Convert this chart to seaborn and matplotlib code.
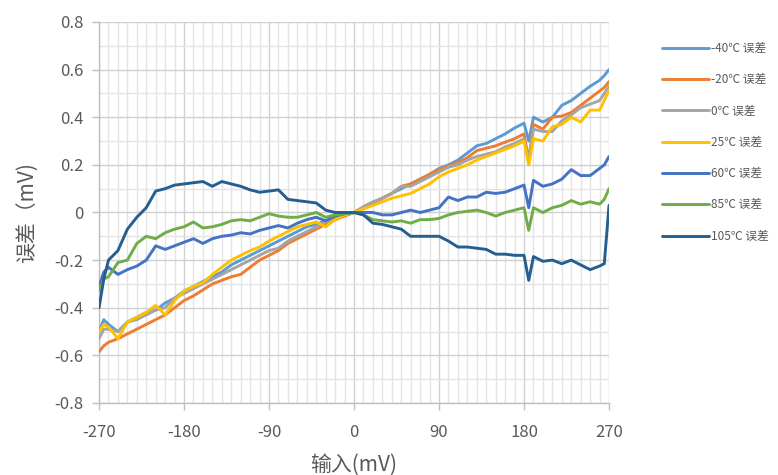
import matplotlib
matplotlib.use("Agg")
import matplotlib.pyplot as plt
from matplotlib.ticker import MultipleLocator
import seaborn as sns
import pandas as pd

x_mv = [-270, -265, -260, -250, -240, -230, -220, -210, -200, -190, -180, -170, -160,
        -150, -140, -130, -120, -110, -100, -90, -80, -70, -60, -50, -40, -30, -20,
        -10, 0, 10, 20, 30, 40, 50, 60, 70, 80, 90, 100, 110, 120, 130, 140, 150,
        160, 170, 180, 185, 190, 200, 210, 220, 230, 240, 250, 260, 265, 270]

err_m40 = [-0.50, -0.45, -0.47, -0.50, -0.46, -0.44, -0.42, -0.41, -0.38, -0.36, -0.33, -0.31, -0.29,
           -0.27, -0.25, -0.22, -0.20, -0.18, -0.16, -0.14, -0.12, -0.10, -0.08, -0.06, -0.05, -0.035, -0.02,
           -0.01, 0.0, 0.02, 0.04, 0.06, 0.08, 0.10, 0.12, 0.14, 0.16, 0.185, 0.20, 0.22, 0.25, 0.28, 0.29, 0.31,
           0.33, 0.355, 0.375, 0.30, 0.40, 0.38, 0.40, 0.45, 0.47, 0.50, 0.53, 0.555, 0.575, 0.60]

err_m20 = [-0.585, -0.56, -0.545, -0.53, -0.51, -0.49, -0.47, -0.45, -0.43, -0.40, -0.37, -0.35, -0.325,
           -0.30, -0.285, -0.27, -0.26, -0.23, -0.20, -0.18, -0.16, -0.13, -0.11, -0.09, -0.07, -0.05, -0.03,
           -0.015, 0.0, 0.02, 0.04, 0.06, 0.08, 0.11, 0.12, 0.14, 0.16, 0.18, 0.195, 0.21, 0.23, 0.26, 0.27, 0.28,
           0.295, 0.31, 0.33, 0.22, 0.37, 0.35, 0.40, 0.405, 0.42, 0.45, 0.48, 0.51, 0.525, 0.55]

err_0 = [-0.53, -0.49, -0.49, -0.50, -0.46, -0.45, -0.43, -0.41, -0.40, -0.36, -0.34, -0.32, -0.30,
         -0.28, -0.26, -0.24, -0.22, -0.20, -0.18, -0.16, -0.15, -0.12, -0.10, -0.08, -0.06, -0.04, -0.025,
         -0.01, 0.0, 0.025, 0.045, 0.06, 0.08, 0.11, 0.11, 0.13, 0.15, 0.17, 0.19, 0.20, 0.22, 0.235, 0.245, 0.255,
         0.275, 0.29, 0.31, 0.22, 0.35, 0.34, 0.34, 0.385, 0.41, 0.44, 0.455, 0.47, 0.50, 0.53]

err_25 = [-0.50, -0.47, -0.48, -0.53, -0.46, -0.44, -0.42, -0.39, -0.43, -0.37, -0.33, -0.31, -0.295,
          -0.26, -0.23, -0.20, -0.18, -0.16, -0.145, -0.12, -0.10, -0.08, -0.06, -0.05, -0.04, -0.06, -0.03,
          -0.01, 0.0, 0.015, 0.03, 0.045, 0.06, 0.07, 0.08, 0.10, 0.12, 0.15, 0.17, 0.185, 0.20, 0.22, 0.235, 0.25,
          0.265, 0.28, 0.30, 0.20, 0.31, 0.30, 0.36, 0.37, 0.40, 0.38, 0.43, 0.43, 0.47, 0.515]

err_60 = [-0.31, -0.25, -0.23, -0.26, -0.24, -0.225, -0.20, -0.14, -0.155, -0.14, -0.125, -0.11, -0.13,
          -0.11, -0.10, -0.095, -0.085, -0.09, -0.075, -0.065, -0.055, -0.065, -0.045, -0.03, -0.02, -0.035, -0.015,
          -0.005, 0.0, 0.0, 0.0, -0.01, -0.01, 0.0, 0.01, 0.0, 0.01, 0.02, 0.065, 0.05, 0.065, 0.065, 0.085, 0.08,
          0.085, 0.10, 0.115, 0.02, 0.135, 0.11, 0.12, 0.14, 0.18, 0.155, 0.155, 0.185, 0.20, 0.235]

err_85 = [-0.33, -0.28, -0.27, -0.21, -0.20, -0.13, -0.10, -0.11, -0.085, -0.07, -0.06, -0.04, -0.065,
          -0.06, -0.05, -0.035, -0.03, -0.035, -0.02, -0.005, -0.015, -0.02, -0.02, -0.01, 0.0, -0.02, -0.01,
          -0.005, 0.0, -0.01, -0.03, -0.035, -0.04, -0.035, -0.045, -0.03, -0.03, -0.025, -0.01, 0.0, 0.005, 0.01, 0.0, -0.015,
          0.0, 0.01, 0.02, -0.075, 0.02, 0.0, 0.02, 0.03, 0.05, 0.035, 0.045, 0.035, 0.055, 0.10]

err_105 = [-0.40, -0.28, -0.20, -0.16, -0.07, -0.02, 0.02, 0.09, 0.10, 0.115, 0.12, 0.125, 0.13,
           0.11, 0.13, 0.12, 0.11, 0.095, 0.085, 0.09, 0.095, 0.055, 0.05, 0.045, 0.04, 0.01, 0.0,
           0.0, 0.0, -0.01, -0.045, -0.05, -0.06, -0.07, -0.10, -0.10, -0.10, -0.10, -0.12, -0.145, -0.145, -0.15, -0.155, -0.175,
           -0.175, -0.18, -0.18, -0.285, -0.185, -0.205, -0.20, -0.215, -0.20, -0.22, -0.24, -0.225, -0.215, 0.03]

series_names = ["-40℃ 误差", "-20℃ 误差", "0℃ 误差", "25℃ 误差", "60℃ 误差", "85℃ 误差", "105℃ 误差"]
series_vals = [err_m40, err_m20, err_0, err_25, err_60, err_85, err_105]
colors = ["#5B9BD5", "#ED7D31", "#A5A5A5", "#FFC000", "#4472C4", "#70AD47", "#255E91"]

x_ticks = [-270, -180, -90, 0, 90, 180, 270]
y_ticks = [-0.8, -0.6, -0.4, -0.2, 0, 0.2, 0.4, 0.6, 0.8]
y_tick_labels = ["-0.8", "-0.6", "-0.4", "-0.2", "0", "0.2", "0.4", "0.6", "0.8"]

rows = []
for name, vals in zip(series_names, series_vals):
    for xv, yv in zip(x_mv, vals):
        rows.append({"x": xv, "y": yv, "series": name})
df = pd.DataFrame(rows)

sns.set_theme(style="white")
plt.rcParams["font.family"] = ["Noto Sans CJK SC", "DejaVu Sans"]

fig = plt.figure(figsize=(7.78, 4.75), dpi=100)
ax = fig.add_axes([0.1273, 0.1516, 0.6555, 0.8021])

sns.lineplot(data=df, x="x", y="y", hue="series", hue_order=series_names,
             palette=colors, linewidth=2.1, sort=False, ax=ax, zorder=3)

ax.set_xlim(-270, 270)
ax.set_ylim(-0.8, 0.8)
ax.set_xticks(x_ticks)
ax.set_xticklabels([str(v) for v in x_ticks])
ax.set_yticks(y_ticks)
ax.set_yticklabels(y_tick_labels)
ax.xaxis.set_minor_locator(MultipleLocator(10))
ax.yaxis.set_minor_locator(MultipleLocator(0.1))
ax.grid(which="major", color="#D0D0D0", linewidth=1.0, zorder=0)
ax.grid(which="minor", color="#E4E4E4", linewidth=1.0, zorder=0)
ax.set_axisbelow(True)

for s in ["top", "right"]:
    ax.spines[s].set_visible(False)
for s in ["left", "bottom"]:
    ax.spines[s].set_color("#BFBFBF")
    ax.spines[s].set_linewidth(1.0)

ax.tick_params(axis="both", which="major", direction="out", length=5, width=1,
               color="#BFBFBF", labelcolor="#595959", labelsize=12, pad=6,
               left=True, bottom=True)
ax.tick_params(axis="x", which="major", pad=10)
ax.tick_params(axis="both", which="minor", length=0)

ax.set_xlabel("输入(mV)", fontsize=15, color="#595959", labelpad=9)
ax.set_ylabel("误差（mV)", fontsize=15, color="#595959", labelpad=11)

leg = ax.legend(loc="upper left", bbox_to_anchor=(1.094, 0.96), frameon=False,
                fontsize=8.5, labelcolor="#595959", handlelength=4.0,
                handletextpad=0.15, labelspacing=1.55, borderaxespad=0)

fig.savefig("out.png", dpi=100)
